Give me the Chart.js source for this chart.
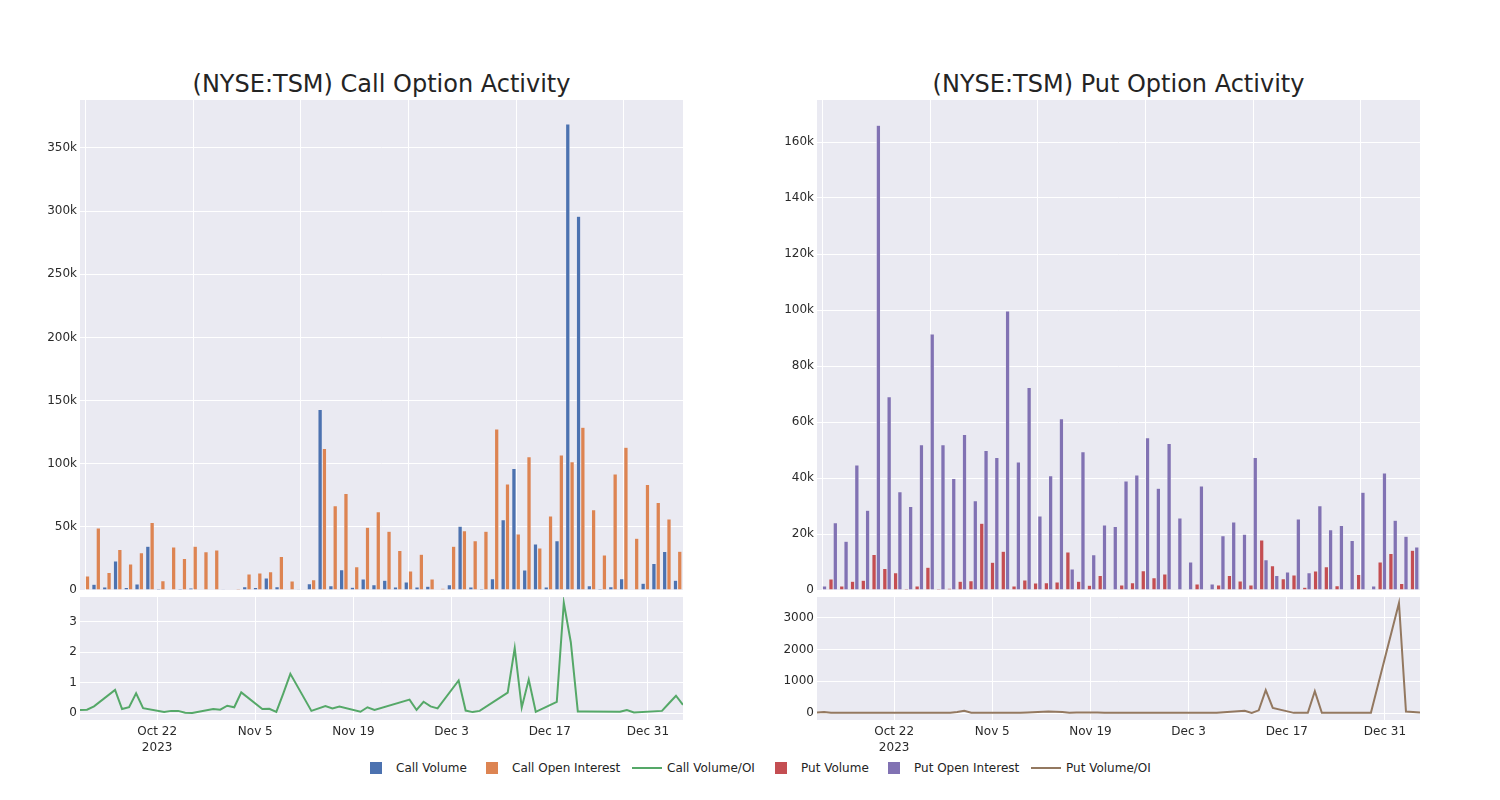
<!DOCTYPE html>
<html>
<head>
<meta charset="utf-8">
<title>TSM option activity</title>
<script src="https://cdn.jsdelivr.net/npm/chart.js@4.4.1/dist/chart.umd.min.js"></script>
<style>
  body { margin: 0; background: #fff; font-family: 'DejaVu Sans', sans-serif; color: #242424; }
  #wrap { position: relative; width: 1500px; height: 800px; overflow: hidden; }
  canvas { position: absolute; }
  .title { position: absolute; top: 69px; width: 603px; text-align: center; font-size: 24px; line-height: 30px; }
  .leg { position: absolute; top: 760px; height: 16px; font-size: 12px; line-height: 16px; white-space: nowrap; }
  .leg .box { position: absolute; left: 0; top: 2px; width: 12px; height: 12px; }
  .leg .ln { position: absolute; left: 0; top: 7px; width: 30px; height: 2px; }
  .leg span { position: absolute; top: 0; }
</style>
</head>
<body>
<div id="wrap">
  <div class="title" style="left:80px">(NYSE:TSM) Call Option Activity</div>
  <div class="title" style="left:817px">(NYSE:TSM) Put Option Activity</div>
  <canvas id="callBars" width="690" height="505" style="left:0;top:95px"></canvas>
  <canvas id="putBars" width="690" height="505" style="left:737px;top:95px"></canvas>
  <canvas id="callRatio" width="690" height="175" style="left:0;top:585px"></canvas>
  <canvas id="putRatio" width="690" height="175" style="left:737px;top:585px"></canvas>
  <div id="legend"></div>
</div>
<script>
// trading days shown in the chart
const dates = [
  '2023-10-11','2023-10-12','2023-10-13','2023-10-16','2023-10-17','2023-10-18','2023-10-19','2023-10-20',
  '2023-10-23','2023-10-24','2023-10-25','2023-10-26','2023-10-27','2023-10-30','2023-10-31',
  '2023-11-01','2023-11-02','2023-11-03','2023-11-06','2023-11-07','2023-11-08','2023-11-09','2023-11-10',
  '2023-11-13','2023-11-15','2023-11-16','2023-11-17','2023-11-20','2023-11-21','2023-11-22',
  '2023-11-27','2023-11-28','2023-11-29','2023-11-30','2023-12-01',
  '2023-12-04','2023-12-05','2023-12-06','2023-12-07','2023-12-11','2023-12-12','2023-12-13','2023-12-14','2023-12-15',
  '2023-12-18','2023-12-19','2023-12-20','2023-12-21','2023-12-22','2023-12-27','2023-12-28','2023-12-29',
  '2024-01-02','2024-01-03','2024-01-04','2024-01-05'
];

const callVolume = [
  500, 4500, 2400, 23000, 2000, 4800, 34700, 1000, 500, 1000, 1600, 300, 200, 100, 200,
  2600, 1900, 9500, 2600, 500, 100, 5000, 143000, 3400, 16100, 2100, 8700, 4200, 7700, 2400,
  6300, 2400, 2900, 300, 4200, 50500, 2400, 1000, 9000, 55600, 96300, 15900, 36500, 2400,
  38900, 369000, 296000, 3400, 1000, 2600, 9000, 300, 5300, 20900, 30400, 7700
];
const callOpenInterest = [
  11000, 49000, 13800, 32000, 20600, 29400, 53400, 7400, 34000, 24900, 34700, 30200, 31700, 300, 1000,
  12700, 13500, 14500, 26500, 7100, 300, 8200, 112000, 66700, 76500, 18500, 49700, 62000, 46600, 31200,
  15000, 28300, 8700, 1300, 34700, 47000, 38900, 46600, 127500, 83900, 44400, 105600, 33300, 58500,
  106900, 101600, 128800, 63500, 27800, 91800, 113000, 41000, 83600, 69300, 56300, 30700
];
const callVolOI = [
  0.1, 0.11, 0.22, 0.76, 0.13, 0.19, 0.65, 0.16, 0.03, 0.07, 0.07, 0.01, 0.0, 0.13, 0.11,
  0.24, 0.19, 0.68, 0.13, 0.14, 0.04, 0.65, 1.29, 0.07, 0.23, 0.15, 0.21, 0.04, 0.19, 0.1,
  0.44, 0.1, 0.37, 0.22, 0.15, 1.07, 0.08, 0.03, 0.07, 0.67, 2.14, 0.18, 1.1, 0.04,
  0.37, 3.63, 2.33, 0.05, 0.05, 0.04, 0.1, 0.02, 0.07, 0.32, 0.57, 0.27
];

const putVolume = [
  0, 3900, 1400, 3100, 3500, 12700, 7700, 6200, 500, 1400, 8100, 500, 600, 3100, 3300,
  23800, 9900, 13800, 1400, 3600, 2500, 2600, 2900, 13600, 3100, 1700, 5200, 200, 1800, 2600,
  6900, 4400, 5700, 200, 100, 2100, 0, 1800, 5200, 3200, 1800, 17900, 8700, 4000,
  5400, 1000, 6800, 8300, 1500, 100, 5500, 100, 10000, 13000, 2300, 14200
];
const putOpenInterest = [
  1400, 24000, 17400, 44600, 28500, 166000, 69000, 35100, 29800, 51900, 91400, 51900, 39800, 55500, 31900,
  49800, 47300, 99600, 45700, 72300, 26400, 40800, 61200, 7500, 49400, 12600, 23200, 22700, 38900, 41100,
  54400, 36300, 52300, 25700, 10000, 37100, 2100, 19400, 24300, 19900, 47300, 10800, 5200, 6400,
  25400, 6200, 30100, 21500, 23000, 17700, 34900, 1400, 41800, 24900, 19200, 15400
];
const putVolOI = [
  20, 30, 5, 5, 5, 5, 5, 5, 5, 5, 5, 5, 5, 10, 30,
  70, 10, 5, 5, 5, 5, 10, 20, 45, 30, 10, 20, 15, 5, 5,
  5, 5, 5, 5, 5, 5, 5, 5, 5, 70, 5, 85, 720, 160,
  5, 5, 5, 690, 5, 5, 5, 5, 3470, 50, 35, 20
];

// date axis ticks under the ratio panels
const tickDates = ['2023-10-22', '2023-11-05', '2023-11-19', '2023-12-03', '2023-12-17', '2023-12-31'];
const tickLabels = [['Oct 22', '2023'], 'Nov 5', 'Nov 19', 'Dec 3', 'Dec 17', 'Dec 31'];

const callBarTicks = [0, 50000, 100000, 150000, 200000, 250000, 300000, 350000];
const putBarTicks = [0, 20000, 40000, 60000, 80000, 100000, 120000, 140000, 160000];
const callRatioTicks = [0, 1, 2, 3];
const putRatioTicks = [0, 1000, 2000, 3000];

const colors = {
  callVol: '#4C72B0', callOI: '#DD8452', callRatio: '#55A868',
  putVol: '#C44E52', putOI: '#8172B3', putRatio: '#937860'
};

Chart.defaults.font.family = "'DejaVu Sans', sans-serif";
Chart.defaults.font.size = 12;
Chart.defaults.color = '#2a2a2a';

const start = Date.parse(dates[0]);
function dayNum(d) {
  return Math.round((Date.parse(d) - start) / 864e5);
}

// grey plot area like the original
const plotBg = {
  id: 'plotBg',
  beforeDraw(chart) {
    const a = chart.chartArea;
    const ctx = chart.ctx;
    ctx.save();
    ctx.fillStyle = '#EAEAF2';
    ctx.fillRect(a.left, a.top, a.right - a.left, a.bottom - a.top);
    ctx.restore();
  }
};

// keep the plot area where the layout padding puts it
function noPad(s) {
  s.paddingTop = 0;
  s.paddingBottom = 0;
  s.paddingLeft = 0;
  s.paddingRight = 0;
}

function kLabel(v) {
  return v === 0 ? '0' : (v / 1000) + 'k';
}

function barChart(id, vol, oi, volColor, oiColor, yMax, yTicks) {
  return new Chart(document.getElementById(id), {
    type: 'bar',
    data: {
      labels: dates,
      datasets: [
        { data: vol, backgroundColor: volColor, borderColor: '#EAEAF2', borderWidth: 0.5 },
        { data: oi, backgroundColor: oiColor, borderColor: '#EAEAF2', borderWidth: 0.5 }
      ]
    },
    options: {
      responsive: false,
      animation: false,
      layout: { padding: { top: 5, right: 7, bottom: 10, left: 0 } },
      plugins: { legend: { display: false }, tooltip: { enabled: false } },
      datasets: { bar: { categoryPercentage: 0.8, barPercentage: 1 } },
      scales: {
        x: {
          grid: {
            offset: false,
            drawTicks: false,
            color: c => (c.index % 10 === 0 ? '#ffffff' : 'rgba(0,0,0,0)')
          },
          border: { display: false },
          ticks: { display: false, autoSkip: false },
          afterFit: s => { s.height = 0; noPad(s); }
        },
        y: {
          min: 0,
          max: yMax,
          grid: { color: '#ffffff', drawTicks: false },
          border: { display: false },
          ticks: { padding: 3, callback: kLabel },
          afterBuildTicks: s => { s.ticks = yTicks.map(v => ({ value: v })); },
          afterFit: s => { s.width = 80; noPad(s); }
        }
      }
    },
    plugins: [plotBg]
  });
}

function ratioChart(id, ratio, color, yMin, yMax, yTicks) {
  return new Chart(document.getElementById(id), {
    type: 'line',
    data: {
      datasets: [{
        data: dates.map((d, i) => ({ x: dayNum(d), y: ratio[i] })),
        borderColor: color,
        borderWidth: 2,
        pointRadius: 0,
        tension: 0
      }]
    },
    options: {
      responsive: false,
      animation: false,
      layout: { padding: { top: 12, right: 7, bottom: 0, left: 0 } },
      plugins: { legend: { display: false }, tooltip: { enabled: false } },
      scales: {
        x: {
          type: 'linear',
          min: 0,
          max: dayNum(dates[dates.length - 1]),
          grid: { color: '#ffffff', drawTicks: false },
          border: { display: false },
          ticks: { padding: 4, maxRotation: 0, font: { lineHeight: 1.35 }, callback: (v, i) => tickLabels[i] },
          afterBuildTicks: s => { s.ticks = tickDates.map(d => ({ value: dayNum(d) })); },
          afterFit: s => { s.height = 40; noPad(s); }
        },
        y: {
          min: yMin,
          max: yMax,
          grid: { color: '#ffffff', drawTicks: false },
          border: { display: false },
          ticks: { padding: 3, callback: v => String(v) },
          afterBuildTicks: s => { s.ticks = yTicks.map(v => ({ value: v })); },
          afterFit: s => { s.width = 80; noPad(s); }
        }
      }
    },
    plugins: [plotBg]
  });
}

barChart('callBars', callVolume, callOpenInterest, colors.callVol, colors.callOI, 388000, callBarTicks);
barChart('putBars', putVolume, putOpenInterest, colors.putVol, colors.putOI, 175000, putBarTicks);
ratioChart('callRatio', callVolOI, colors.callRatio, -0.23, 3.82, callRatioTicks);
ratioChart('putRatio', putVolOI, colors.putRatio, -220, 3660, putRatioTicks);

/* legend */
const legendItems = [
  { text: 'Call Volume', color: colors.callVol, kind: 'box', x: 370 },
  { text: 'Call Open Interest', color: colors.callOI, kind: 'box', x: 486 },
  { text: 'Call Volume/OI', color: colors.callRatio, kind: 'ln', x: 632 },
  { text: 'Put Volume', color: colors.putVol, kind: 'box', x: 775 },
  { text: 'Put Open Interest', color: colors.putOI, kind: 'box', x: 888 },
  { text: 'Put Volume/OI', color: colors.putRatio, kind: 'ln', x: 1031 }
];
const legend = document.getElementById('legend');
legendItems.forEach(item => {
  const el = document.createElement('div');
  el.className = 'leg';
  el.style.left = item.x + 'px';
  const mark = document.createElement('div');
  mark.className = item.kind;
  mark.style.background = item.color;
  const label = document.createElement('span');
  label.textContent = item.text;
  label.style.left = (item.kind === 'box' ? 26 : 35) + 'px';
  el.appendChild(mark);
  el.appendChild(label);
  legend.appendChild(el);
});
</script>
</body>
</html>
